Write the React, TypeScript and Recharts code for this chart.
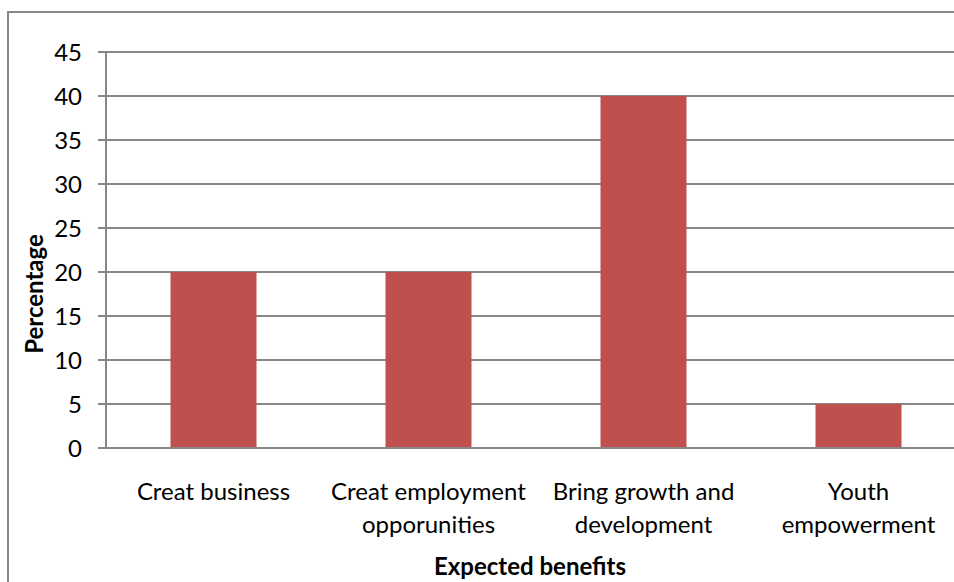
import { BarChart, Bar, XAxis, YAxis, CartesianGrid } from "recharts";

const categories = [
  "Creat business",
  "Creat employment opporunities",
  "Bring growth and development",
  "Youth empowerment",
];
// how each category label breaks over lines
const tickLines: Record<string, string[]> = {
  "Creat business": ["Creat business"],
  "Creat employment opporunities": ["Creat employment", "opporunities"],
  "Bring growth and development": ["Bring growth and", "development"],
  "Youth empowerment": ["Youth", "empowerment"],
};
const percentages = [20, 20, 40, 5];
const yTicks = [0, 5, 10, 15, 20, 25, 30, 35, 40, 45];

const data = categories.map((c, i) => ({ name: c, value: percentages[i] }));

const FONT = "Lato, 'Open Sans', sans-serif";
const GRAY = "#878787";

function CategoryTick(props: any) {
  const { x, payload } = props;
  const lines = tickLines[payload.value] || [payload.value];
  return (
    <g>
      {lines.map((line, i) => (
        <text
          key={i}
          x={x}
          y={490 + i * 33}
          textAnchor="middle"
          dominantBaseline="central"
          fontFamily={FONT}
          fontSize={24}
          fill="#000"
        >
          {line}
        </text>
      ))}
    </g>
  );
}

export default function App() {
  return (
    <div
      style={{
        position: "fixed",
        left: 0,
        top: 0,
        width: 954,
        height: 582,
        overflow: "hidden",
        background: "#fff",
      }}
    >
      <div
        style={{
          position: "absolute",
          left: 7,
          top: 11,
          width: 1100,
          height: 700,
          border: `2px solid ${GRAY}`,
        }}
      />
      <div style={{ position: "absolute", left: 0, top: 0 }}>
        <BarChart
          width={1000}
          height={600}
          data={data}
          margin={{ top: 52, right: 34, left: 0, bottom: 0 }}
          barCategoryGap="30%"
        >
          <CartesianGrid vertical={false} stroke={GRAY} strokeWidth={2} />
          <XAxis
            dataKey="name"
            height={152}
            axisLine={{ stroke: GRAY, strokeWidth: 2 }}
            tickLine={false}
            interval={0}
            tick={<CategoryTick />}
            label={{
              content: () => (
                <text
                  x={530}
                  y={565}
                  textAnchor="middle"
                  dominantBaseline="central"
                  fontFamily={FONT}
                  fontSize={24}
                  fontWeight="bold"
                  fill="#000"
                >
                  Expected benefits
                </text>
              ),
            }}
          />
          <YAxis
            width={106}
            domain={[0, 45]}
            ticks={yTicks}
            interval={0}
            axisLine={{ stroke: GRAY, strokeWidth: 2 }}
            tickLine={{ stroke: GRAY, strokeWidth: 2 }}
            tickSize={8}
            tickMargin={16}
            tick={{ fontFamily: FONT, fontSize: 24, fill: "#000" }}
            label={{
              content: () => (
                <text
                  x={33}
                  y={294}
                  transform="rotate(-90, 33, 294)"
                  textAnchor="middle"
                  dominantBaseline="central"
                  fontFamily={FONT}
                  fontSize={24}
                  fontWeight="bold"
                  fill="#000"
                >
                  Percentage
                </text>
              ),
            }}
          />
          <Bar dataKey="value" fill="#C0504D" isAnimationActive={false} />
        </BarChart>
      </div>
    </div>
  );
}
